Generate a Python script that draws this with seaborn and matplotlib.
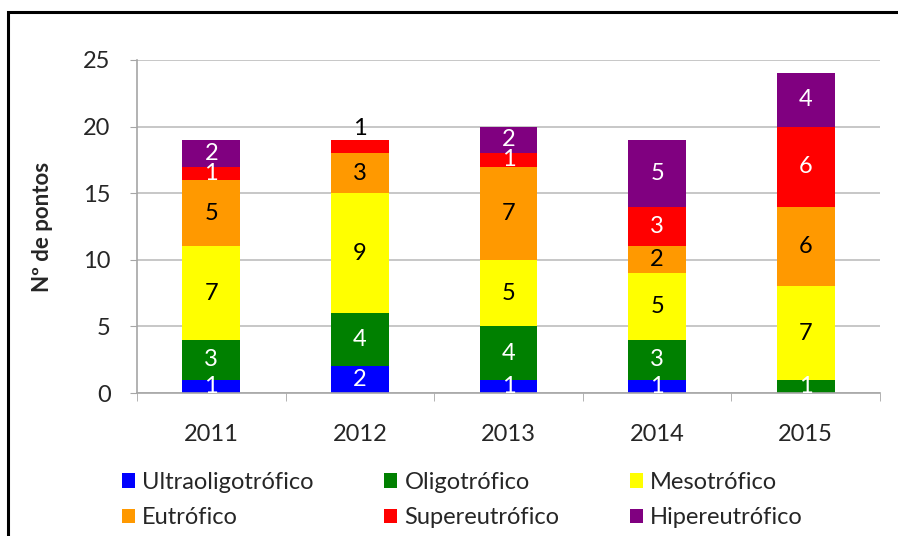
import numpy as np
import pandas as pd
import seaborn as sns
import matplotlib.pyplot as plt
from matplotlib.patches import Rectangle, Patch

anos = ["2011", "2012", "2013", "2014", "2015"]
classes = ["Ultraoligotrófico", "Oligotrófico", "Mesotrófico",
           "Eutrófico", "Supereutrófico", "Hipereutrófico"]
ultra = [1, 2, 1, 1, 0]
oligo = [3, 4, 4, 3, 1]
meso = [7, 9, 5, 5, 7]
eutro = [5, 3, 7, 2, 6]
super_ = [1, 1, 1, 3, 6]
hiper = [2, 0, 2, 5, 4]
cores = ["#0000FF", "#008000", "#FFFF00", "#FF9900", "#FF0000", "#800080"]
cor_texto = ["white", "white", "black", "black", "white", "white"]

sns.set_style("white")
plt.rcParams["font.family"] = ["Lato", "DejaVu Sans"]

df = pd.DataFrame({"ano": anos, classes[0]: ultra, classes[1]: oligo, classes[2]: meso,
                   classes[3]: eutro, classes[4]: super_, classes[5]: hiper})
acum = df[classes].cumsum(axis=1)

fig = plt.figure(figsize=(8.98, 5.36), dpi=100)
ax = fig.add_axes([137 / 898, 1 - 393 / 536, (880 - 137) / 898, (393 - 60) / 536])

# barras empilhadas: desenha do topo para baixo
for i in range(len(classes) - 1, -1, -1):
    sns.barplot(x=df["ano"], y=acum[classes[i]], color=cores[i], saturation=1,
                width=0.39, linewidth=0, ax=ax, zorder=2)

# rótulos
for j, ano in enumerate(anos):
    for i, c in enumerate(classes):
        v = df.loc[j, c]
        if v == 0:
            continue
        topo = acum.loc[j, c]
        if ano == "2012" and c == "Supereutrófico":
            ax.text(j, topo + 0.1, str(v), ha="center", va="bottom", fontsize=17, color="black")
        else:
            ax.text(j, topo - v / 2, str(v), ha="center", va="center", fontsize=17,
                    color=cor_texto[i], zorder=3)

ax.set_ylim(0, 25)
ax.set_yticks([0, 5, 10, 15, 20, 25])
ax.set_xlim(-0.5, 4.5)
ax.yaxis.grid(True, color="#BDBDBD", linewidth=1.2, zorder=0)
ax.set_axisbelow(True)
for s in ["top", "right"]:
    ax.spines[s].set_visible(False)
for s in ["left", "bottom"]:
    ax.spines[s].set_color("#A6A6A6")
    ax.spines[s].set_linewidth(1.2)
ax.tick_params(axis="y", labelsize=17, length=5, color="#A6A6A6", left=True, pad=14)
ax.tick_params(axis="x", labelsize=17, length=0, pad=22)
ax.set_xticks(range(5))
ax.set_xticks(np.arange(-0.5, 5, 1), minor=True)
ax.tick_params(axis="x", which="minor", length=6, color="#A6A6A6", bottom=True)
ax.set_xlabel("")
ax.set_ylabel("Nº de pontos", fontsize=16, fontweight="bold", labelpad=22)

handles = [Patch(facecolor=cores[i], edgecolor="none", label=classes[i]) for i in [0, 3, 1, 4, 2, 5]]
fig.legend(handles=handles, ncol=3, loc="center", bbox_to_anchor=(0.515, 1 - 500 / 536),
           frameon=False, fontsize=17, handlelength=0.55, handleheight=0.55,
           handletextpad=0.3, columnspacing=3.0, labelspacing=0.6)

fig.patches.append(Rectangle((8 / 898, -0.1), 1.2, 1 - 12 / 536 + 0.1, transform=fig.transFigure,
                             fill=False, edgecolor="black", linewidth=2.2))

fig.savefig("out.png", dpi=100)
